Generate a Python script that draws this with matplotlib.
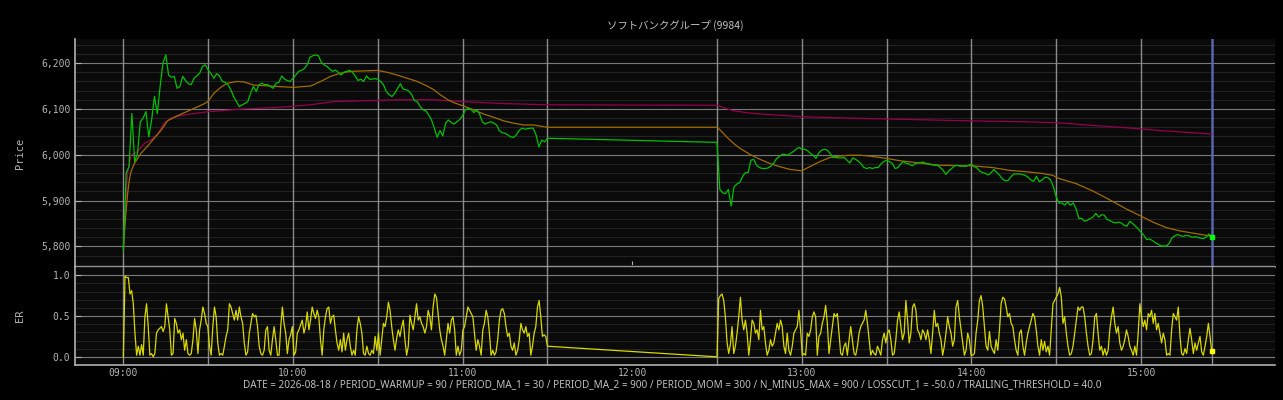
import numpy as np
import matplotlib
matplotlib.use("Agg")
import matplotlib.pyplot as plt
from matplotlib.ticker import MultipleLocator, StrMethodFormatter, FixedLocator, FixedFormatter

TITLE = "ソフトバンクグループ (9984)"
FOOTER = ("DATE = 2026-08-18 / PERIOD_WARMUP = 90 / PERIOD_MA_1 = 30 / PERIOD_MA_2 = 900 / "
          "PERIOD_MOM = 300 / N_MINUS_MAX = 900 / LOSSCUT_1 = -50.0 / TRAILING_THRESHOLD = 40.0")

# time axis in minutes from 09:00
tick_pos = [0, 60, 120, 180, 240, 300, 360]
tick_labels = ["09:00", "10:00", "11:00", "12:00", "13:00", "14:00", "15:00"]
session_lines = [0, 30, 60, 90, 120, 150, 210, 240, 270, 300, 330, 360]
last_min = 385

# price, 1 minute steps, 09:00 - 11:30
price_am = [
    5788, 5960, 5974, 6090, 5985, 6003, 6072, 6080, 6094, 6039,
    6076, 6127, 6090, 6149, 6200, 6218, 6174, 6169, 6171, 6145,
    6149, 6171, 6162, 6155, 6153, 6167, 6172, 6178, 6193, 6196,
    6185, 6177, 6167, 6177, 6172, 6160, 6158, 6153, 6142, 6127,
    6116, 6105, 6109, 6112, 6116, 6134, 6149, 6138, 6153, 6156,
    6153, 6153, 6149, 6145, 6156, 6158, 6172, 6165, 6162, 6160,
    6167, 6174, 6182, 6184, 6188, 6196, 6213, 6216, 6218, 6216,
    6202, 6196, 6193, 6187, 6182, 6185, 6180, 6174, 6180, 6182,
    6184, 6180, 6172, 6162, 6165, 6160, 6172, 6165, 6165, 6166,
    6165, 6160, 6153, 6138, 6131, 6127, 6134, 6145, 6155, 6143,
    6142, 6139, 6131, 6118, 6116, 6105, 6098, 6096, 6087, 6076,
    6058, 6038, 6053, 6041, 6069, 6076, 6070, 6067, 6072, 6077,
    6085, 6098, 6101, 6099, 6092, 6098, 6089, 6072, 6067, 6070,
    6072, 6069, 6065, 6053, 6048, 6047, 6043, 6039, 6038, 6043,
    6053, 6058, 6056, 6057, 6058, 6058, 6043, 6017, 6032, 6028,
    6036,
]
# price, 1 minute steps, 12:30 - 15:25
price_pm = [
    6027, 5924, 5917, 5915, 5924, 5888, 5930, 5936, 5939, 5952,
    5961, 5961, 5988, 5990, 5977, 5972, 5970, 5970, 5971, 5975,
    5981, 5991, 5996, 6001, 6001, 5999, 6003, 6007, 6012, 6016,
    6012, 6012, 6009, 6003, 5999, 5992, 6004, 6010, 6012, 6010,
    6003, 5994, 5994, 5993, 5993, 5994, 5988, 5982, 5993, 5990,
    5986, 5980, 5972, 5970, 5972, 5970, 5972, 5972, 5980, 5985,
    5988, 5985, 5981, 5970, 5972, 5980, 5985, 5981, 5980, 5976,
    5980, 5982, 5983, 5984, 5981, 5980, 5978, 5977, 5977, 5972,
    5966, 5957, 5965, 5970, 5976, 5977, 5975, 5975, 5975, 5977,
    5980, 5974, 5971, 5964, 5961, 5959, 5956, 5961, 5968, 5961,
    5955, 5947, 5943, 5944, 5952, 5958, 5958, 5958, 5957, 5955,
    5951, 5945, 5942, 5953, 5941, 5945, 5951, 5950, 5945, 5930,
    5908, 5894, 5895, 5890, 5897, 5890, 5895, 5882, 5861, 5861,
    5855, 5857, 5861, 5864, 5872, 5864, 5869, 5868, 5859, 5856,
    5853, 5851, 5853, 5851, 5846, 5844, 5855, 5850, 5844, 5838,
    5831, 5824, 5815, 5816, 5813, 5808, 5805, 5801, 5801, 5801,
    5807, 5819, 5823, 5826, 5823, 5822, 5824, 5823, 5820, 5821,
    5820, 5818, 5817, 5820, 5827, 5820,
]

# moving averages (minute, value)
ma1_t = [0, 0.9, 1.5, 2.1, 2.7, 3.9, 6.2, 8.6, 10.9, 13.3, 15.6, 19.1, 23.8, 28.5, 29.9,
         32.0, 34.4, 36.7, 40.3, 42.6, 46.1, 52.0, 60, 66.2, 69.8, 73.3, 76.8, 80.4, 90,
         93.3, 96.8, 100.4, 103.9, 107.4, 109.8, 112.1, 114.5, 116.8, 120, 123.9, 127.4,
         130.9, 134.5, 138, 141.5, 145.1, 150, 210, 211.1, 213.4, 215.8, 218.1, 221.6,
         225.2, 228.7, 232.2, 235.8, 240, 242.8, 246.4, 249.9, 253.4, 256.9, 260.5, 264,
         270, 274.6, 281.6, 288.7, 300, 307.5, 313.4, 319.3, 325.2, 328.8, 331.1, 337,
         342.9, 348.8, 354.7, 360, 364.2, 368.9, 373.6, 378.3, 385]
ma1_v = [5798, 5872, 5915, 5945, 5963, 5981, 6003, 6019, 6036, 6053, 6074, 6085, 6098, 6111, 6116,
         6134, 6147, 6156, 6160, 6159, 6152, 6150, 6147, 6150, 6160, 6171, 6178, 6182, 6184,
         6180, 6174, 6167, 6160, 6150, 6142, 6131, 6121, 6114, 6107, 6098, 6089,
         6082, 6074, 6069, 6065, 6065, 6060, 6060, 6054, 6039, 6025, 6014, 6001,
         5990, 5981, 5974, 5968, 5965, 5974, 5985, 5994, 5997, 5999, 5999, 5997,
         5992, 5987, 5982, 5977, 5976, 5972, 5966, 5963, 5959, 5955, 5948, 5937,
         5921, 5902, 5882, 5866, 5853, 5841, 5834, 5829, 5822]

ma2_t = [0, 0.9, 1.5, 2.7, 5.0, 7.4, 9.7, 12.1, 14.4, 16.8, 21.5, 29.9, 42.6, 54.3, 66.1,
         74.5, 86.2, 98, 109.8, 120, 133.3, 150, 210, 212.2, 215.8, 221.6, 227.5, 240,
         251.1, 270, 292.2, 307.5, 319.3, 330, 342.9, 354.7, 366.5, 378.3, 385]
ma2_v = [5788, 5908, 5959, 5999, 6007, 6025, 6032, 6045, 6069, 6080, 6087, 6094, 6100, 6103, 6109,
         6116, 6118, 6120, 6120, 6116, 6112, 6109, 6108, 6103, 6096, 6091, 6088, 6083,
         6081, 6078, 6075, 6073, 6072, 6070, 6064, 6059, 6053, 6048, 6045]

# efficiency ratio, evenly sampled within each session
er_am = [
    0.00, 0.99, 0.97, 0.97, 0.77, 0.81, 0.65, 0.29, 0.02, 0.13,
    0.02, 0.15, 0.02, 0.49, 0.65, 0.37, 0.02, 0.04, 0.00, 0.04,
    0.29, 0.33, 0.35, 0.37, 0.31, 0.37, 0.65, 0.49, 0.33, 0.02,
    0.04, 0.47, 0.41, 0.29, 0.33, 0.21, 0.29, 0.08, 0.21, 0.04,
    0.02, 0.04, 0.21, 0.47, 0.33, 0.04, 0.33, 0.45, 0.61, 0.53,
    0.41, 0.37, 0.13, 0.02, 0.37, 0.61, 0.49, 0.17, 0.02, 0.04,
    0.02, 0.13, 0.25, 0.33, 0.65, 0.61, 0.53, 0.45, 0.57, 0.45,
    0.61, 0.49, 0.41, 0.17, 0.02, 0.06, 0.29, 0.41, 0.53, 0.49,
    0.51, 0.37, 0.13, 0.04, 0.02, 0.08, 0.33, 0.37, 0.08, 0.02,
    0.21, 0.37, 0.21, 0.02, 0.02, 0.37, 0.61, 0.41, 0.29, 0.04,
    0.21, 0.27, 0.37, 0.02, 0.06, 0.29, 0.33, 0.39, 0.45,
    0.29, 0.37, 0.55, 0.33, 0.45, 0.61, 0.53, 0.47, 0.57, 0.49,
    0.21, 0.02, 0.33, 0.49, 0.59, 0.61, 0.41, 0.49, 0.51, 0.33,
    0.17, 0.08, 0.21, 0.06, 0.29, 0.08, 0.21, 0.29, 0.13, 0.02,
    0.08, 0.02, 0.33, 0.49, 0.41, 0.29, 0.04, 0.02, 0.13, 0.04,
    0.02, 0.08, 0.04, 0.25, 0.08, 0.29, 0.02, 0.21, 0.41, 0.37,
    0.49, 0.67, 0.57, 0.37, 0.21, 0.08, 0.23, 0.33, 0.25, 0.37,
    0.45, 0.21, 0.02, 0.13, 0.51, 0.41, 0.33, 0.49, 0.65, 0.45,
    0.49, 0.41, 0.37, 0.29, 0.37, 0.57, 0.49, 0.33, 0.61, 0.77,
    0.73, 0.53, 0.33, 0.21, 0.13, 0.02, 0.21, 0.41, 0.29, 0.45,
    0.49, 0.33, 0.02, 0.13, 0.02, 0.08, 0.33, 0.37, 0.49, 0.61,
    0.57, 0.53, 0.49, 0.29, 0.08, 0.21, 0.13, 0.02, 0.33, 0.41,
    0.57, 0.49, 0.29, 0.02, 0.08, 0.02, 0.06, 0.21, 0.45, 0.57,
    0.59, 0.53, 0.37, 0.25, 0.29, 0.13, 0.08, 0.17, 0.02, 0.08,
    0.21, 0.41, 0.33, 0.29, 0.37, 0.25, 0.29, 0.02, 0.13, 0.29,
    0.37, 0.61, 0.69, 0.49, 0.25, 0.27, 0.25, 0.13,
]
er_pm = [
    0.00, 0.71, 0.75, 0.77, 0.69, 0.49, 0.18, 0.04, 0.15, 0.37,
    0.04, 0.13, 0.29, 0.49, 0.73, 0.45, 0.33, 0.45, 0.29, 0.02,
    0.21, 0.45, 0.41, 0.29, 0.33, 0.21, 0.57, 0.33, 0.37, 0.17,
    0.02, 0.08, 0.21, 0.13, 0.17, 0.29, 0.41, 0.33, 0.45, 0.37,
    0.13, 0.04, 0.29, 0.08, 0.02, 0.13, 0.29, 0.33, 0.37, 0.57,
    0.33, 0.02, 0.04, 0.02, 0.29, 0.25, 0.33, 0.49, 0.55, 0.49,
    0.02, 0.25, 0.29, 0.41, 0.49, 0.63, 0.41, 0.04, 0.21, 0.37,
    0.53, 0.49, 0.53, 0.29, 0.04, 0.02, 0.13, 0.17, 0.02, 0.21,
    0.37, 0.21, 0.04, 0.02, 0.13, 0.29, 0.37, 0.41, 0.45, 0.57,
    0.41, 0.21, 0.02, 0.08, 0.04, 0.02, 0.13, 0.08, 0.02, 0.21,
    0.29, 0.17, 0.29, 0.33, 0.21, 0.02, 0.04, 0.21, 0.45, 0.55,
    0.37, 0.21, 0.29, 0.69, 0.45, 0.17, 0.29, 0.61, 0.65, 0.57,
    0.33, 0.29, 0.21, 0.33, 0.29, 0.21, 0.33, 0.21, 0.04, 0.29,
    0.57, 0.37, 0.41, 0.29, 0.21, 0.02, 0.13, 0.29, 0.49, 0.37,
    0.29, 0.13, 0.21, 0.61, 0.69, 0.49, 0.33, 0.17, 0.02, 0.08,
    0.29, 0.21, 0.02,
    0.02, 0.04, 0.29, 0.45, 0.69, 0.75, 0.61, 0.37, 0.13, 0.08,
    0.31, 0.13, 0.08, 0.04, 0.21, 0.08, 0.33, 0.65, 0.73, 0.71,
    0.61, 0.49, 0.53, 0.41, 0.37, 0.21, 0.08, 0.02, 0.29, 0.33,
    0.13, 0.02, 0.17, 0.29, 0.37, 0.45, 0.53, 0.49, 0.33, 0.13,
    0.02, 0.21, 0.08, 0.19, 0.06, 0.13, 0.02, 0.33, 0.65, 0.69,
    0.73, 0.77, 0.85, 0.73, 0.41, 0.49, 0.29, 0.13, 0.02, 0.04,
    0.13, 0.29, 0.45, 0.61, 0.57, 0.61, 0.61, 0.49, 0.29, 0.13,
    0.02, 0.04, 0.21, 0.49, 0.53, 0.29, 0.08, 0.13, 0.02, 0.10,
    0.02, 0.08, 0.33, 0.49, 0.61, 0.41, 0.29, 0.37, 0.17, 0.08,
    0.13, 0.21, 0.33, 0.25, 0.13, 0.08, 0.02, 0.13, 0.02, 0.29,
    0.65, 0.49, 0.37, 0.45, 0.33, 0.53, 0.49, 0.57, 0.41, 0.53,
    0.33, 0.41, 0.29, 0.17, 0.29, 0.21, 0.02, 0.04, 0.02, 0.33,
    0.53, 0.49, 0.45, 0.61, 0.25, 0.04, 0.02, 0.10, 0.04, 0.21,
    0.35, 0.21, 0.04, 0.17, 0.08, 0.17, 0.25, 0.06, 0.02, 0.13,
    0.25, 0.41, 0.25, 0.07,
]

BG = "#000000"
FACE = "#0a0a0a"
TXT = "#b4b4b4"
GRID = "#7a7a7a"
MINOR = "#222222"

price_t = np.r_[np.arange(0, len(price_am)), 210 + np.arange(0, len(price_pm))]
price = np.r_[price_am, price_pm]
er_t = np.r_[np.linspace(0, 150, len(er_am)), np.linspace(210, last_min, len(er_pm))]
er = np.r_[er_am, er_pm]

plt.rcParams['font.family'] = ['DejaVu Sans Mono']

fig = plt.figure(figsize=(12.83, 4.0), dpi=100, facecolor=BG)
ax_p = fig.add_axes([0.0587, 0.3325, 0.9351, 0.5693])
ax_e = fig.add_axes([0.0587, 0.0875, 0.9351, 0.245], sharex=ax_p)

for ax in (ax_p, ax_e):
    ax.set_facecolor(FACE)
    for s in ("top", "right"):
        ax.spines[s].set_visible(False)
    for s in ("left", "bottom"):
        ax.spines[s].set_color("#b0b0b0")
        ax.spines[s].set_linewidth(1.2)
    ax.tick_params(colors=TXT, labelsize=7, direction="in", length=4, width=0.8)
    ax.tick_params(which="minor", length=0)
    ax.grid(which="major", axis="y", color=GRID, lw=0.8)
    ax.grid(which="minor", axis="y", color=MINOR, lw=0.8)
    ax.set_axisbelow(True)
    for t in session_lines:
        ax.axvline(t, color="#8c8c8c", lw=1.0, zorder=1)

ax_e.tick_params(axis="x", length=0, pad=2.5)
ax_e.axvline(last_min, color="#8c8c8c", lw=1.0, zorder=1)
ax_p.axvline(last_min, color="#5a64aa", lw=1.8, zorder=1)

ax_p.plot(ma2_t, ma2_v, color="#96004f", lw=0.9, zorder=3)
ax_p.plot(ma1_t, ma1_v, color="#a06c00", lw=0.9, zorder=3)
ax_p.plot(price_t, price, color="#00c000", lw=0.9, zorder=4)
ax_p.plot(price_t[-1], price[-1], "s", color="#00ff00", ms=3.5, zorder=5)

ax_e.plot(er_t, er, color="#d8d800", lw=0.9, zorder=3)
ax_e.plot(er_t[-1], er[-1], "s", color="#ffff00", ms=3.5, zorder=5)

ax_p.set_xlim(-17, 407.4)
ax_p.set_ylim(5755, 6252)
ax_p.yaxis.set_major_locator(MultipleLocator(100))
ax_p.yaxis.set_minor_locator(MultipleLocator(20))
ax_p.yaxis.set_major_formatter(StrMethodFormatter("{x:,.0f}"))

ax_e.set_ylim(-0.1, 1.1)
ax_e.yaxis.set_major_locator(MultipleLocator(0.5))
ax_e.yaxis.set_minor_locator(MultipleLocator(0.1))
ax_e.yaxis.set_major_formatter(StrMethodFormatter("{x:.1f}"))

ax_e.xaxis.set_major_locator(FixedLocator(tick_pos))
ax_e.xaxis.set_major_formatter(FixedFormatter(tick_labels))
ax_p.tick_params(axis="x", labelbottom=False)

fig.text(20 / 1283, 1 - 153 / 400, "Price", rotation=90, color=TXT, fontsize=7.5,
         ha="center", va="center")
fig.text(20 / 1283, 1 - 316 / 400, "ER", rotation=90, color=TXT, fontsize=7.5,
         ha="center", va="center")
fig.text(675 / 1283, 1 - 25 / 400, TITLE, color="#c0c0c0", fontsize=7.5,
         family=["Noto Sans CJK JP", "DejaVu Sans"], ha="center", va="center")
fig.text(672 / 1283, 1 - 384.5 / 400, FOOTER, color="#c0c0c0", fontsize=7.15,
         family=["Noto Sans", "DejaVu Sans"], ha="center", va="center")

fig.savefig("out.png", dpi=100, facecolor=BG)
